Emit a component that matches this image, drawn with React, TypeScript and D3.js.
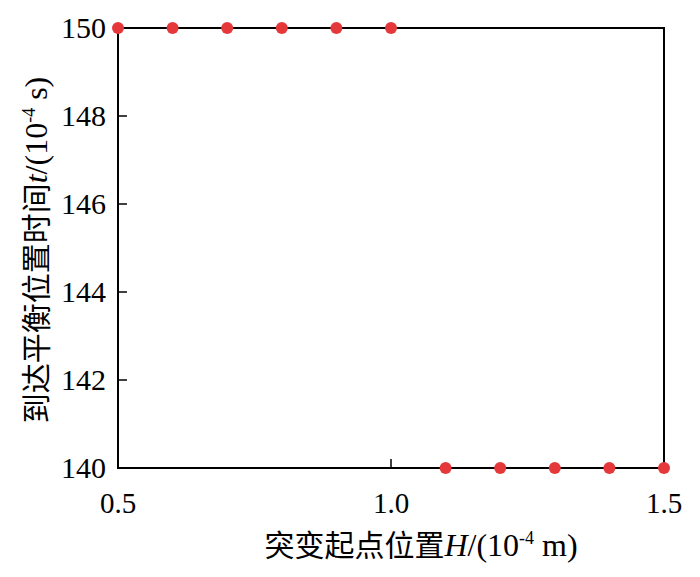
import React from "react";
import * as d3 from "d3";

const xValues = [0.5, 0.6, 0.7, 0.8, 0.9, 1.0, 1.1, 1.2, 1.3, 1.4, 1.5];
const yValues = [150, 150, 150, 150, 150, 150, 140, 140, 140, 140, 140];
const xTicks = [0.5, 1.0, 1.5];
const yTicks = [140, 142, 144, 146, 148, 150];

export default function App() {
  const W = 700, H = 577;
  const L = 118, R = 664, T = 28, B = 468;
  const x = d3.scaleLinear().domain([0.5, 1.5]).range([L, R]);
  const y = d3.scaleLinear().domain([140, 150]).range([B, T]);
  const serif = { fontFamily: "Liberation Serif" };
  const cjk = { fontFamily: "Noto Sans CJK SC" };
  return (
    <svg width={W} height={H} style={{ position: "absolute", left: 0, top: 0, background: "#fff" }}>
      <rect x={L} y={T} width={R - L} height={B - T} fill="none" stroke="#000" strokeWidth={2} />
      {xTicks.map((t) => (
        <g key={"x" + t}>
          <line x1={x(t)} x2={x(t)} y1={B} y2={B - 9} stroke="#000" strokeWidth={1.5} />
          <text x={x(t)} y={B + 45} textAnchor="middle" style={serif} fontSize={29}>
            {t.toFixed(1)}
          </text>
        </g>
      ))}
      {yTicks.map((t) => (
        <g key={"y" + t}>
          <line x1={L} x2={L + 9} y1={y(t)} y2={y(t)} stroke="#000" strokeWidth={1.5} />
          <text x={L - 12} y={y(t) + 10} textAnchor="end" style={serif} fontSize={30}>
            {t}
          </text>
        </g>
      ))}
      {xValues.map((v, i) => (
        <circle key={i} cx={x(v)} cy={y(yValues[i])} r={6} fill="#e5383b" />
      ))}
      <text x={421} y={556} textAnchor="middle" fontSize={32}>
        <tspan style={cjk} fontSize={30}>突变起点位置</tspan>
        <tspan style={serif} fontStyle="italic">H</tspan>
        <tspan style={serif}>/(10</tspan>
        <tspan style={serif} fontSize={18} dy={-12}>-4</tspan>
        <tspan style={serif} dy={12}> m)</tspan>
      </text>
      <text transform={`translate(47, 250) rotate(-90)`} textAnchor="middle" fontSize={32}>
        <tspan style={cjk} fontSize={30}>到达平衡位置时间</tspan>
        <tspan style={serif} fontStyle="italic">t</tspan>
        <tspan style={serif}>/(10</tspan>
        <tspan style={serif} fontSize={18} dy={-12}>-4</tspan>
        <tspan style={serif} dy={12}> s)</tspan>
      </text>
    </svg>
  );
}
